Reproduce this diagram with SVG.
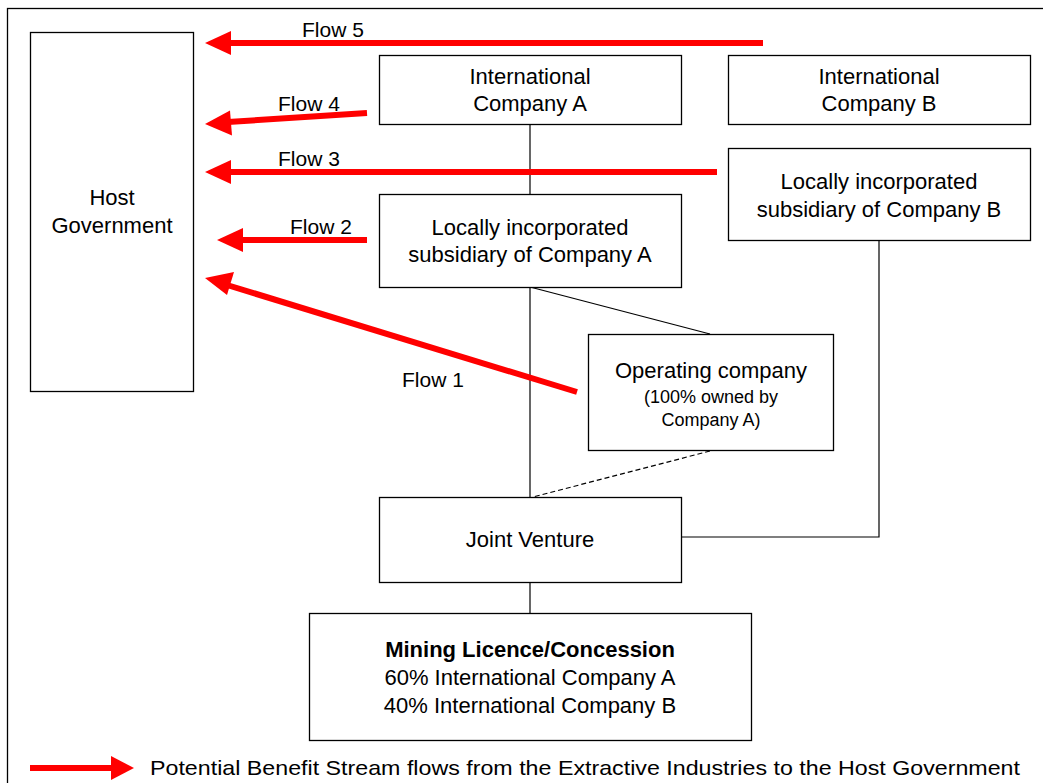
<svg xmlns="http://www.w3.org/2000/svg" width="1043" height="783" viewBox="0 0 1043 783">
<style>
  text { font-family: "Liberation Sans", Arial, sans-serif; fill: #000; }
  .t { font-size: 22px; text-anchor: middle; }
  .s { font-size: 18px; text-anchor: middle; }
  .lbl { font-size: 21px; }
  .box { fill: #fff; stroke: #000; stroke-width: 1.3; }
  .conn { fill: none; stroke: #000; stroke-width: 1.2; }
  .flow { fill: none; stroke: #ff0000; stroke-width: 6; }
  .head { fill: #ff0000; }
</style>
<rect x="0" y="0" width="1043" height="783" fill="#fff"/>
<rect x="7.5" y="8.5" width="1045" height="790" fill="none" stroke="#000" stroke-width="1.3"/>

<g id="connectors">
  <line class="conn" x1="530" y1="124" x2="530" y2="194"/>
  <line class="conn" x1="530" y1="287" x2="530" y2="497"/>
  <line class="conn" x1="530" y1="287" x2="710" y2="334"/>
  <line class="conn" x1="710" y1="451" x2="533" y2="497" stroke-dasharray="5,3"/>
  <polyline class="conn" points="879,240 879,537 681,537"/>
  <line class="conn" x1="530" y1="582" x2="530" y2="613"/>
</g>

<g id="host-government">
  <rect class="box" x="30.5" y="32.5" width="163" height="359"/>
  <text class="t" x="112" y="205">Host</text>
  <text class="t" x="112" y="233">Government</text>
</g>
<g id="intl-company-a">
  <rect class="box" x="379.5" y="55.5" width="302" height="69"/>
  <text class="t" x="530" y="84">International</text>
  <text class="t" x="530" y="111">Company A</text>
</g>
<g id="intl-company-b">
  <rect class="box" x="728.5" y="55.5" width="302" height="69"/>
  <text class="t" x="879" y="84">International</text>
  <text class="t" x="879" y="111">Company B</text>
</g>
<g id="local-sub-b">
  <rect class="box" x="728.5" y="148.5" width="302" height="92"/>
  <text class="t" x="879" y="189">Locally incorporated</text>
  <text class="t" x="879" y="217">subsidiary of Company B</text>
</g>
<g id="local-sub-a">
  <rect class="box" x="379.5" y="194.5" width="302" height="93"/>
  <text class="t" x="530" y="235">Locally incorporated</text>
  <text class="t" x="530" y="262">subsidiary of Company A</text>
</g>
<g id="operating-company">
  <rect class="box" x="588.5" y="334.5" width="245" height="116"/>
  <text class="t" x="711" y="378">Operating company</text>
  <text class="s" x="711" y="403">(100% owned by</text>
  <text class="s" x="711" y="426">Company A)</text>
</g>
<g id="joint-venture">
  <rect class="box" x="379.5" y="497.5" width="302" height="85"/>
  <text class="t" x="530" y="547">Joint Venture</text>
</g>
<g id="mining-licence">
  <rect class="box" x="309.5" y="613.5" width="442" height="127"/>
  <text class="t" x="530" y="657" font-weight="bold">Mining Licence/Concession</text>
  <text class="t" x="530" y="685">60% International Company A</text>
  <text class="t" x="530" y="713">40% International Company B</text>
</g>

<g id="flows">
  <line class="flow" x1="763" y1="43" x2="228" y2="43"/>
  <polygon class="head" points="205,43 231,31 231,55"/>
  <text class="lbl" x="302" y="37">Flow 5</text>

  <line class="flow" x1="367" y1="113" x2="228" y2="122"/>
  <polygon class="head" points="205,124 230,110.5 232,135.5"/>
  <text class="lbl" x="278" y="111">Flow 4</text>

  <line class="flow" x1="717" y1="172" x2="228" y2="172"/>
  <polygon class="head" points="205,172 231,160 231,184"/>
  <text class="lbl" x="278" y="166">Flow 3</text>

  <line class="flow" x1="367" y1="240" x2="240" y2="240"/>
  <polygon class="head" points="217,240 243,228 243,252"/>
  <text class="lbl" x="290" y="234">Flow 2</text>

  <line class="flow" x1="577" y1="392" x2="227" y2="285"/>
  <polygon class="head" points="205,278 234,272 227,295"/>
  <text class="lbl" x="402" y="387">Flow 1</text>
</g>

<g id="legend">
  <line class="flow" x1="30" y1="768" x2="114" y2="768"/>
  <polygon class="head" points="134,768 111,756 111,780"/>
  <text class="lbl" x="150" y="775" textLength="870" lengthAdjust="spacingAndGlyphs">Potential Benefit Stream flows from the Extractive Industries to the Host Government</text>
</g>
</svg>
